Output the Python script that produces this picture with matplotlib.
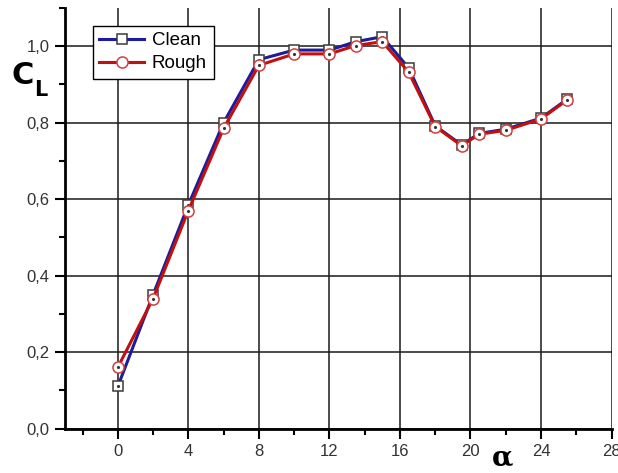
import matplotlib
matplotlib.use("Agg")
import matplotlib.pyplot as plt
from matplotlib.ticker import MultipleLocator, FuncFormatter

alpha = [0, 2, 4, 6, 8, 10, 12, 13.5, 15, 16.5, 18, 19.5, 20.5, 22, 24, 25.5]
clean = [0.11, 0.35, 0.585, 0.80, 0.965, 0.99, 0.99, 1.012, 1.025, 0.943, 0.792, 0.742, 0.772, 0.783, 0.812, 0.862]
rough = [0.16, 0.34, 0.57, 0.785, 0.95, 0.98, 0.98, 1.002, 1.012, 0.932, 0.790, 0.740, 0.770, 0.780, 0.810, 0.860]
xticks = [0, 4, 8, 12, 16, 20, 24, 28]
yticks = [0.0, 0.2, 0.4, 0.6, 0.8, 1.0]

plt.rcParams['font.family'] = ['Liberation Sans', 'DejaVu Sans']

fig = plt.figure(figsize=(6.18, 4.73), dpi=100)
ax = fig.add_axes([0.105, 0.094, 0.8845, 0.889])

ax.set_xlim(-3, 28)
ax.set_ylim(0, 1.1)

ax.plot(alpha, clean, color='#1c1c9c', lw=2.2, marker='s', ms=7.5,
        mfc='white', mec='#3a3a3a', mew=1.1, label='Clean', zorder=3)
ax.plot(alpha, clean, ls='none', marker='.', ms=2.5, color='#333333', zorder=3.5)
ax.plot(alpha, rough, color='#c01010', lw=2.2, marker='o', ms=8,
        mfc='white', mec='#d04040', mew=1.1, label='Rough', zorder=4)
ax.plot(alpha, rough, ls='none', marker='.', ms=2.5, color='#333333', zorder=5)

ax.set_xticks(xticks)
ax.set_yticks(yticks)
ax.xaxis.set_minor_locator(MultipleLocator(2))
ax.yaxis.set_minor_locator(MultipleLocator(0.1))
ax.yaxis.set_major_formatter(FuncFormatter(lambda v, p: f"{v:.1f}".replace('.', ',')))
ax.tick_params(axis='both', which='major', direction='out', length=7, width=1.5,
               labelsize=12, colors='black', labelcolor='#333333')
ax.tick_params(axis='both', which='minor', direction='out', length=4.5, width=1.5)
ax.tick_params(axis='x', pad=4)
ax.tick_params(axis='y', pad=4)

ax.grid(True, which='major', color='#1a1a1a', lw=1.1)
ax.set_axisbelow(True)
for s in ['top', 'right']:
    ax.spines[s].set_visible(False)
for s in ['left', 'bottom']:
    ax.spines[s].set_linewidth(2)

leg = ax.legend(loc='upper left', bbox_to_anchor=(0.051, 0.958), fontsize=13.5,
                frameon=True, fancybox=False, edgecolor='black', framealpha=1,
                handlelength=2.4, borderpad=0.35, labelspacing=0.3, handletextpad=0.4,
                borderaxespad=0)
leg.get_frame().set_linewidth(1.0)

fig.text(0.018, 0.822, 'C', fontsize=22, fontweight='heavy', family='DejaVu Sans')
fig.text(0.055, 0.797, 'L', fontsize=15, fontweight='heavy', family='DejaVu Sans')
fig.text(0.814, 0.017, 'α', fontsize=20, fontweight='bold', family='DejaVu Serif',
         ha='center', va='baseline')

fig.savefig('out.png', dpi=100)
